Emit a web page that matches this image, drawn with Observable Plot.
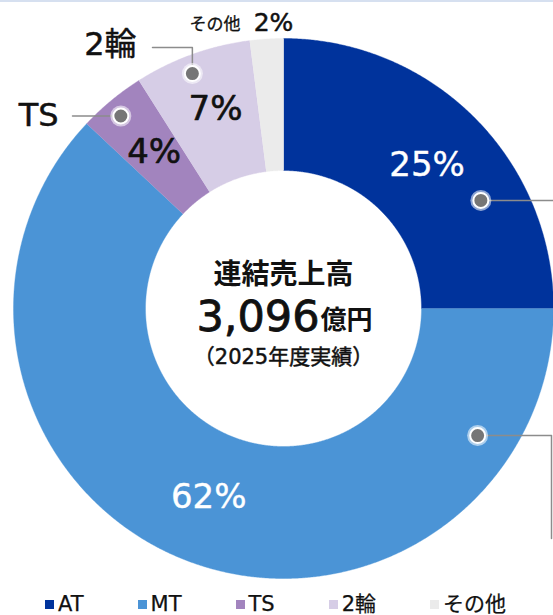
<!DOCTYPE html>
<html><head><meta charset="utf-8">
<script src="https://cdn.jsdelivr.net/npm/d3@7"></script>
<script src="https://cdn.jsdelivr.net/npm/@observablehq/plot@0.6"></script>
<style>
body{margin:0;background:#fff;font-family:"DejaVu Sans","Noto Sans CJK JP",sans-serif;}
#wrap{position:relative;width:553px;height:615px;overflow:hidden;background:#fff;}
#topline{position:absolute;left:0;top:0;width:553px;height:2px;background:#d6e0f0;}
#chart{position:absolute;left:0;top:0;}
#legend{position:absolute;left:0;top:593px;height:22px;display:flex;align-items:center;padding-left:45px;gap:54px;font-size:21px;color:#111;line-height:22px;-webkit-text-stroke:0.25px #111;}
#legend .item{display:flex;align-items:center;white-space:nowrap;}
#legend .sw{width:9px;height:9px;margin-right:4px;display:inline-block;}
</style></head>
<body>
<div id="wrap"><div id="chart"></div><div id="topline"></div><div id="legend"></div></div>
<script>
// ---- data ----
const categories = ["AT", "MT", "TS", "2輪", "その他"];
const shares = [25, 62, 4, 7, 2];
const palette = ["#00339c", "#4b94d6", "#a284be", "#d6cde6", "#ebebeb"];
const centerTitle = "連結売上高";
const centerValue = "3,096";
const centerUnit = "億円";
const centerNote = "（2025年度実績）";

// ---- layout ----
const W = 553, H = 590;
const R = 270, R0 = 138;
const cx = 283, cy = 308;
const total = d3.sum(shares);
let acc = 0;
const slices = categories.map((c, i) => {
  const a0 = acc / total * 2 * Math.PI; acc += shares[i];
  const a1 = acc / total * 2 * Math.PI;
  return {cat: c, share: shares[i], a0, a1, mid: (a0 + a1) / 2};
});
const pol = (a, r) => ({x: r * Math.sin(a), y: r * Math.cos(a)});

const ring = slices.flatMap(s => {
  const n = Math.max(2, Math.ceil((s.a1 - s.a0) / 0.005));
  const pts = [];
  for (let k = 0; k <= n; k++) pts.push({cat: s.cat, ...pol(s.a0 + (s.a1 - s.a0) * k / n, R)});
  for (let k = n; k >= 0; k--) pts.push({cat: s.cat, ...pol(s.a0 + (s.a1 - s.a0) * k / n, R0)});
  return pts;
});

const deg = Math.PI / 180;
const darkCats = new Set(["AT", "MT"]);
const inLabels = slices.filter(s => s.cat !== "その他").map(s => {
  const a = s.cat === "2輪" ? s.mid + 1 * deg : s.mid;
  const r = s.cat === "2輪" ? 211 : 203;
  return {...s, ...pol(a, r)};
});

// callouts: dot angle/radius and leader path
const dAT = pol(61.3 * deg, 225), dMT = pol(123.2 * deg, 232);
const dTS = pol(slices[2].mid - 0.6 * deg, 252), d2 = pol(338.8 * deg, 252);
const dots = [{cat: "AT", ...dAT}, {cat: "MT", ...dMT}, {cat: "TS", ...dTS}, {cat: "2輪", ...d2}];
const leaders = [
  {cat: "AT", x: dAT.x, y: dAT.y}, {cat: "AT", x: W - cx, y: dAT.y},
  {cat: "MT", x: dMT.x, y: dMT.y}, {cat: "MT", x: 268, y: dMT.y}, {cat: "MT", x: 268, y: cy - 538},
  {cat: "TS", x: dTS.x, y: dTS.y}, {cat: "TS", x: 72 - cx, y: dTS.y},
  {cat: "2輪", x: d2.x, y: d2.y}, {cat: "2輪", x: d2.x, y: cy - 47}, {cat: "2輪", x: 152 - cx, y: cy - 47}
];
const outLabels = [
  {text: "TS", x: 58 - cx, y: dTS.y},
  {text: "2輪", x: 136 - cx, y: cy - 44}
];
const font = '"DejaVu Sans","Noto Sans CJK JP",sans-serif';
const jfont = '"Noto Sans CJK JP",sans-serif';
const ink = "#111";

const plot = Plot.plot({
  width: W, height: H, margin: 0,
  x: {domain: [-cx, W - cx], axis: null},
  y: {domain: [-(H - cy), cy], axis: null},
  color: {domain: categories, range: palette},
  marks: [
    Plot.line(ring, {x: "x", y: "y", z: "cat", fill: "cat", stroke: "cat", strokeWidth: 0.4, curve: "linear"}),
    Plot.text(inLabels.filter(d => darkCats.has(d.cat)), {x: "x", y: "y", text: d => d.share + "%", fill: "white", stroke: "white", strokeWidth: 0.4, fontSize: 34, fontFamily: font, lineAnchor: "middle"}),
    Plot.text(inLabels.filter(d => !darkCats.has(d.cat)), {x: "x", y: "y", text: d => d.share + "%", fill: ink, stroke: ink, strokeWidth: 0.6, fontSize: 34, fontFamily: font, lineAnchor: "middle"}),
    Plot.line(leaders, {x: "x", y: "y", z: "cat", stroke: "#8c8c8c", strokeWidth: 1.5}),
    Plot.dot(dots, {x: "x", y: "y", r: 10.5, fill: "white", fillOpacity: 0.55, stroke: "none"}),
    Plot.dot(dots, {x: "x", y: "y", r: 7.5, fill: "#767676", stroke: "white", strokeWidth: 2}),
    Plot.text(outLabels, {x: "x", y: "y", text: "text", textAnchor: "end", fontSize: 32, fill: ink, stroke: ink, strokeWidth: 0.5, fontFamily: font, lineAnchor: "middle"}),
    Plot.text([categories[4]], {x: -43, y: cy - 24, text: d => d, textAnchor: "end", fontSize: 17, fill: ink, stroke: ink, strokeWidth: 0.3, fontFamily: jfont, lineAnchor: "middle"}),
    Plot.text([shares[4]], {x: -10, y: cy - 22, text: d => d + "%", textAnchor: "middle", fontSize: 25, fill: ink, stroke: ink, strokeWidth: 0.5, fontFamily: font, lineAnchor: "middle"}),
    Plot.text([centerTitle], {x: 0, y: cy - 275, text: d => d, fontSize: 28, fontWeight: "bold", fill: ink, fontFamily: jfont, lineAnchor: "middle"}),
    Plot.text([centerValue], {x: 36, y: cy - 317, text: d => d, textAnchor: "end", fontSize: 43, fill: ink, stroke: ink, strokeWidth: 0.8, fontFamily: font, lineAnchor: "middle"}),
    Plot.text([centerUnit], {x: 37, y: cy - 320, text: d => d, textAnchor: "start", fontSize: 26, fontWeight: "bold", fill: ink, fontFamily: jfont, lineAnchor: "middle"}),
    Plot.text([centerNote], {x: 0, y: cy - 357, text: d => d, fontSize: 21, fill: ink, stroke: ink, strokeWidth: 0.5, fontFamily: font, lineAnchor: "middle"})
  ]
});
document.getElementById("chart").appendChild(plot);

const leg = document.getElementById("legend");
const colorScale = plot.scale("color");
categories.forEach(c => {
  const it = document.createElement("span"); it.className = "item";
  const sw = document.createElement("span"); sw.className = "sw";
  sw.style.background = colorScale.apply(c);
  const tx = document.createElement("span"); tx.textContent = c;
  it.appendChild(sw); it.appendChild(tx); leg.appendChild(it);
});
</script>
</body></html>
